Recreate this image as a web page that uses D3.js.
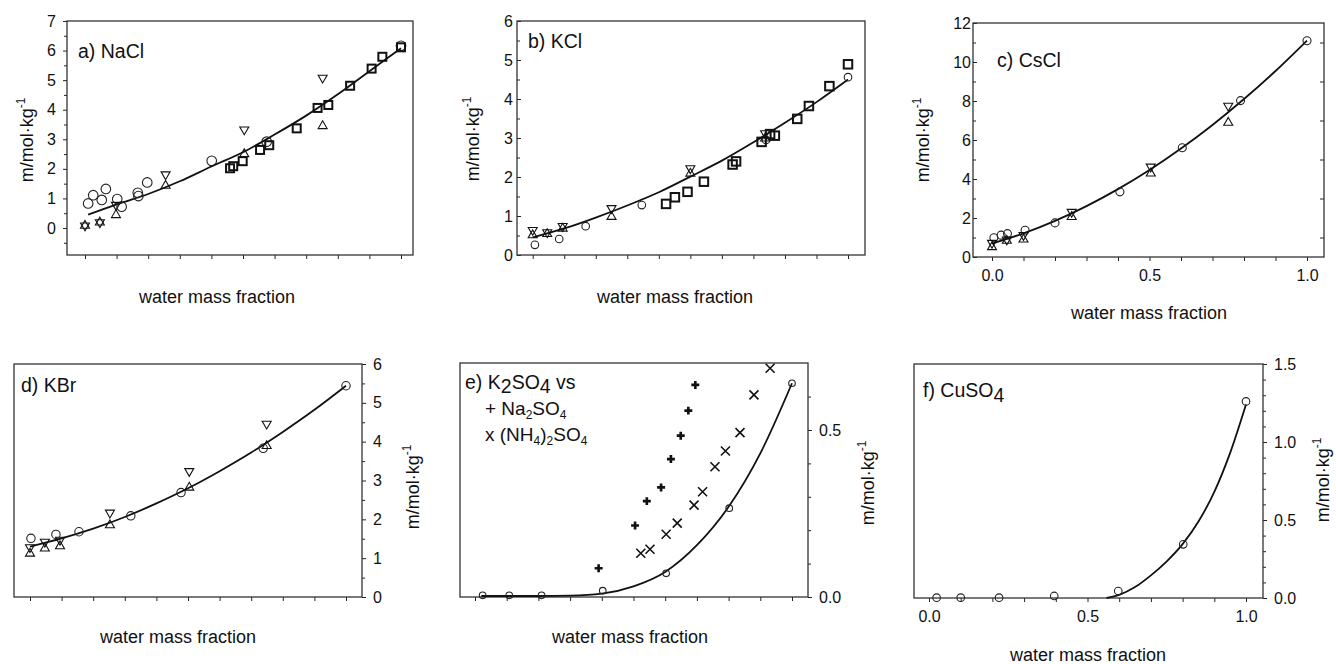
<!DOCTYPE html>
<html>
<head>
<meta charset="utf-8">
<script src="https://cdn.jsdelivr.net/npm/d3@7"></script>
<style>
  body { margin: 0; background: #fff; }
  svg { display: block; font-family: "Liberation Sans", Arial, sans-serif; }
</style>
</head>
<body>
<div id="chart"></div>
<script>
// values: x = water mass fraction, y = m / mol kg-1

// a) NaCl
const naclCircles = [[0.01,0.83],[0.026,1.11],[0.053,0.95],[0.066,1.32],[0.102,0.98],[0.116,0.72],[0.167,1.19],[0.169,1.08],[0.197,1.54],[0.401,2.27],[0.575,2.92],[1.0,6.16]];
const naclSquares = [[0.459,2.02],[0.469,2.09],[0.499,2.26],[0.554,2.64],[0.583,2.80],[0.670,3.37],[0.736,4.06],[0.770,4.16],[0.839,4.81],[0.907,5.39],[0.941,5.79],[1.0,6.11]];
const naclUp = [[0.0,0.08],[0.047,0.19],[0.098,0.44],[0.255,1.43],[0.504,2.50],[0.752,3.45]];
const naclDown = [[0.0,0.08],[0.047,0.19],[0.098,0.78],[0.255,1.81],[0.504,3.33],[0.752,5.08]];
const naclFitX = [0.01,0.1,0.2,0.3,0.4,0.5,0.6,0.7,0.8,0.9,1.0];
const naclFitY = [0.45,0.80,1.15,1.58,2.08,2.56,3.16,3.80,4.52,5.30,6.08];

// b) KCl
const kclCircles = [[0.007,0.26],[0.084,0.41],[0.168,0.74],[0.346,1.28],[0.74,2.95],[1.0,4.56]];
const kclSquares = [[0.423,1.31],[0.451,1.48],[0.491,1.62],[0.543,1.88],[0.634,2.32],[0.645,2.40],[0.726,2.90],[0.753,3.10],[0.768,3.06],[0.839,3.49],[0.876,3.82],[0.941,4.33],[1.0,4.89]];
const kclUp = [[0.0,0.51],[0.046,0.54],[0.095,0.68],[0.25,0.98],[0.50,2.09],[0.737,2.99]];
const kclDown = [[0.0,0.64],[0.046,0.58],[0.095,0.74],[0.25,1.20],[0.50,2.22],[0.737,3.12]];
const kclFitX = [0,0.1,0.2,0.3,0.4,0.5,0.6,0.7,0.8,0.9,1.0];
const kclFitY = [0.45,0.68,0.96,1.27,1.61,2.01,2.42,2.89,3.39,3.92,4.50];

// c) CsCl
const csclCircles = [[0.006,0.99],[0.029,1.12],[0.049,1.20],[0.105,1.37],[0.2,1.75],[0.406,3.34],[0.604,5.6],[0.789,8.02],[1.0,11.09]];
const csclUp = [[0,0.51],[0.047,0.84],[0.1,0.90],[0.253,2.06],[0.504,4.29],[0.75,6.89]];
const csclDown = [[0,0.72],[0.047,0.89],[0.1,1.12],[0.253,2.31],[0.504,4.63],[0.75,7.75]];
const csclFitX = [0,0.1,0.2,0.3,0.4,0.5,0.6,0.7,0.8,0.9,1.0];
const csclFitY = [0.69,1.21,1.85,2.61,3.48,4.46,5.56,6.77,8.10,9.54,11.10];

// d) KBr
const kbrCircles = [[0.003,1.51],[0.082,1.61],[0.155,1.68],[0.319,2.09],[0.478,2.69],[0.738,3.83],[1.0,5.44]];
const kbrUp = [[0,1.12],[0.047,1.25],[0.095,1.31],[0.253,1.85],[0.504,2.82],[0.749,3.89]];
const kbrDown = [[0,1.28],[0.047,1.42],[0.095,1.47],[0.253,2.17],[0.504,3.24],[0.749,4.46]];
const kbrFitX = [0,0.1,0.2,0.3,0.4,0.5,0.6,0.7,0.8,0.9,1.0];
const kbrFitY = [1.30,1.51,1.76,2.06,2.41,2.80,3.24,3.72,4.25,4.82,5.44];

// e) K2SO4 vs Na2SO4 and (NH4)2SO4
const k2so4Circles = [[0.024,0.005],[0.108,0.005],[0.21,0.005],[0.403,0.019],[0.603,0.071],[0.802,0.266],[1.0,0.64]];
const na2so4Plus = [[0.39,0.086],[0.505,0.214],[0.542,0.287],[0.587,0.328],[0.618,0.413],[0.649,0.483],[0.673,0.558],[0.695,0.635]];
const nh4so4Cross = [[0.523,0.131],[0.552,0.143],[0.603,0.188],[0.638,0.221],[0.691,0.275],[0.718,0.315],[0.757,0.39],[0.790,0.437],[0.836,0.492],[0.880,0.605],[0.931,0.685]];
const k2so4FitX = [0.02,0.1,0.2,0.3,0.4,0.5,0.6,0.7,0.8,0.9,1.0];
const k2so4FitY = [0.003,0.003,0.003,0.004,0.010,0.032,0.075,0.155,0.27,0.43,0.64];

// f) CuSO4
const cuso4Circles = [[0.024,0.002],[0.1,0.002],[0.221,0.002],[0.395,0.013],[0.597,0.045],[0.802,0.344],[1.0,1.26]];
const cuso4FitX = [0.56,0.6,0.65,0.7,0.75,0.8,0.85,0.9,0.95,1.0];
const cuso4FitY = [0,0.02,0.07,0.145,0.235,0.345,0.49,0.68,0.93,1.24];

// axis tick values
const xTicks = d3.range(0, 11).map(i => i / 10);
const labelledHalves = [0, 0.5, 1.0];

const W = 1336, H = 664;
const svg = d3.select("#chart").append("svg")
    .attr("width", W)
    .attr("height", H);
svg.append("rect").attr("width", W).attr("height", H).attr("fill", "#fff");

// text with sub/superscript pieces
function richText(g, x, y, parts, size) {
    const t = g.append("text").attr("x", x).attr("y", y)
        .attr("font-size", size).attr("fill", "#111");
    let cur = 0;
    parts.forEach(p => {
        const off = p.dy || 0;
        t.append("tspan").attr("dy", off - cur).attr("font-size", p.size || size).text(p.t);
        cur = off;
    });
    return t;
}

function yTitle(g, cx, cy) {
    const t = g.append("text")
        .attr("transform", `translate(${cx + 6},${cy}) rotate(-90)`)
        .attr("text-anchor", "middle")
        .attr("font-size", 18)
        .attr("fill", "#111");
    t.append("tspan").text("m/mol·kg");
    t.append("tspan").attr("dy", -8).attr("font-size", 12).text("-1");
}

function drawMarker(g, type, px, py, s) {
    if (type === "circle") {
        g.append("circle").attr("cx", px).attr("cy", py).attr("r", s)
            .attr("fill", "none").attr("stroke", "#222").attr("stroke-width", 1.1);
    } else if (type === "square") {
        g.append("rect").attr("x", px - s / 2).attr("y", py - s / 2)
            .attr("width", s).attr("height", s)
            .attr("fill", "none").attr("stroke", "#111").attr("stroke-width", 2);
    } else if (type === "up" || type === "down") {
        const area = Math.sqrt(3) / 4 * s * s;
        g.append("path")
            .attr("d", d3.symbol(d3.symbolTriangle, area)())
            .attr("transform", `translate(${px},${py})` + (type === "down" ? " rotate(180)" : ""))
            .attr("fill", "none").attr("stroke", "#111").attr("stroke-width", 1.1);
    } else if (type === "plus") {
        g.append("path")
            .attr("d", d3.symbol(d3.symbolCross, s * s * 0.55)())
            .attr("transform", `translate(${px},${py})`)
            .attr("fill", "#111");
    } else if (type === "x") {
        const h = s / 2;
        g.append("path")
            .attr("d", `M${px - h},${py - h}L${px + h},${py + h}M${px - h},${py + h}L${px + h},${py - h}`)
            .attr("stroke", "#111").attr("stroke-width", 1.6);
    }
}

const panels = [
    {
        frame: [67, 413, 21, 255], xr: [85, 401], yd: [0, 7], yr: [228, 21],
        side: "left", yMajor: d3.range(0, 8), yMinor: d3.range(-1, 14).map(i => i / 2 + 0.0).filter(v => v % 1 !== 0),
        tickSize: 4, pad: 7, xLabels: null,
        yTitle: [27, 140], xTitle: [217, 303],
        label: { x: 78, y: 58, parts: [{ t: "a) NaCl" }] },
        fit: [naclFitX, naclFitY],
        series: [
            { type: "circle", data: naclCircles, s: 4.8 },
            { type: "up", data: naclUp, s: 9 },
            { type: "down", data: naclDown, s: 9 },
            { type: "square", data: naclSquares, s: 8 }
        ]
    },
    {
        frame: [517, 865, 21, 255], xr: [532.7, 848], yd: [0, 6], yr: [255, 21],
        side: "left", yMajor: d3.range(0, 7), yMinor: d3.range(0, 6).map(i => i + 0.5),
        tickSize: -4, pad: 4, xLabels: null,
        yTitle: [473, 139], xTitle: [675, 303],
        label: { x: 528, y: 48, parts: [{ t: "b) KCl" }] },
        fit: [kclFitX, kclFitY],
        series: [
            { type: "circle", data: kclCircles, s: 3.8 },
            { type: "up", data: kclUp, s: 9 },
            { type: "down", data: kclDown, s: 9 },
            { type: "square", data: kclSquares, s: 8.5 }
        ]
    },
    {
        frame: [973, 1324, 23, 257], xr: [992, 1307], yd: [0, 12], yr: [257, 23],
        side: "left", yMajor: d3.range(0, 13, 2), yMinor: d3.range(1, 12, 2),
        tickSize: -4, pad: 2, xLabels: labelledHalves, rightInner: d3.range(1, 12, 2),
        yTitle: [923, 140], xTitle: [1149, 319],
        label: { x: 997, y: 67, parts: [{ t: "c) CsCl" }] },
        fit: [csclFitX, csclFitY],
        series: [
            { type: "circle", data: csclCircles, s: 4 },
            { type: "up", data: csclUp, s: 9 },
            { type: "down", data: csclDown, s: 9 }
        ]
    },
    {
        frame: [14, 362, 364, 597], xr: [30, 346], yd: [0, 6], yr: [597, 364],
        side: "right", yMajor: d3.range(0, 7), yMinor: d3.range(0, 6).map(i => i + 0.5),
        tickSize: 4, pad: 7, xLabels: null,
        yTitle: [413, 487], xTitle: [178, 643],
        label: { x: 21, y: 392, parts: [{ t: "d) KBr" }] },
        fit: [kbrFitX, kbrFitY],
        series: [
            { type: "circle", data: kbrCircles, s: 4.2 },
            { type: "up", data: kbrUp, s: 9 },
            { type: "down", data: kbrDown, s: 9 }
        ]
    },
    {
        frame: [460, 808, 363, 597], xr: [475, 792], yd: [0, 0.5], yr: [597, 430],
        side: "right", yMajor: [0, 0.5], yMinor: [0.1, 0.2, 0.3, 0.4, 0.6],
        yFormat: d3.format(".1f"),
        tickSize: 4, pad: 7, xLabels: null,
        yTitle: [868, 483], xTitle: [630, 643],
        fit: [k2so4FitX, k2so4FitY],
        series: [
            { type: "circle", data: k2so4Circles, s: 3.3 },
            { type: "plus", data: na2so4Plus, s: 8 },
            { type: "x", data: nh4so4Cross, s: 9 }
        ]
    },
    {
        frame: [914, 1263, 364, 598], xr: [929, 1246], yd: [0, 1.5], yr: [598, 364],
        side: "right", yMajor: [0, 0.5, 1.0, 1.5], yMinor: d3.range(1, 15).map(i => i / 10).filter(v => Math.abs(v * 2 - Math.round(v * 2)) > 1e-6),
        yFormat: d3.format(".1f"),
        tickSize: 4, pad: 7, xLabels: labelledHalves,
        yTitle: [1323, 480], xTitle: [1088, 661],
        label: { x: 923, y: 397, parts: [{ t: "f) CuSO" }, { t: "4", dy: 5 }] },
        fit: [cuso4FitX, cuso4FitY],
        series: [
            { type: "circle", data: cuso4Circles, s: 3.8 }
        ]
    }
];

function styleAxis(sel) {
    sel.select(".domain").remove();
    sel.selectAll(".tick line").attr("stroke", "#222").attr("stroke-width", 1);
    sel.selectAll(".tick text").attr("font-size", 16).attr("fill", "#111")
        .attr("font-family", "Liberation Sans, Arial, sans-serif");
}

panels.forEach(p => {
    const x = d3.scaleLinear().domain([0, 1]).range(p.xr);
    const y = d3.scaleLinear().domain(p.yd).range(p.yr);
    const [l, r, t, b] = p.frame;
    const g = svg.append("g");

    // bottom axis: ticks every 0.1, labels only where the figure has them
    const isLab = d => p.xLabels && p.xLabels.some(v => Math.abs(v - d) < 1e-6);
    g.append("g").attr("transform", `translate(0,${b})`)
        .call(d3.axisBottom(x).tickValues(xTicks).tickSize(4).tickPadding(9)
            .tickFormat(d => isLab(d) ? d3.format(".1f")(d) : ""))
        .call(styleAxis);

    // y axis, major + minor
    const fmt = p.yFormat || d3.format("d");
    const mk = p.side === "left" ? d3.axisLeft : d3.axisRight;
    const ax = p.side === "left" ? l : r;
    g.append("g").attr("transform", `translate(${ax},0)`)
        .call(mk(y).tickValues(p.yMajor).tickSize(p.tickSize).tickPadding(p.pad).tickFormat(fmt))
        .call(styleAxis);
    g.append("g").attr("transform", `translate(${ax},0)`)
        .call(mk(y).tickValues(p.yMinor.filter(v => y(v) >= t - 0.5 && y(v) <= b + 0.5))
            .tickSize(p.tickSize > 0 ? 3 : -3).tickFormat(""))
        .call(styleAxis);

    if (p.rightInner) {
        g.append("g").attr("transform", `translate(${r},0)`)
            .call(d3.axisRight(y).tickValues(p.rightInner).tickSize(-4).tickFormat(""))
            .call(styleAxis);
    }

    // frame
    g.append("rect").attr("x", l).attr("y", t).attr("width", r - l).attr("height", b - t)
        .attr("fill", "none").attr("stroke", "#333").attr("stroke-width", 1.3);

    // fitted curve
    const line = d3.line().x(d => x(d[0])).y(d => y(d[1])).curve(d3.curveMonotoneX);
    g.append("path").datum(d3.zip(p.fit[0], p.fit[1]))
        .attr("d", line)
        .attr("fill", "none").attr("stroke", "#111").attr("stroke-width", 1.8);

    // markers
    p.series.forEach(s => {
        s.data.forEach(d => drawMarker(g, s.type, x(d[0]), y(d[1]), s.s));
    });

    // titles
    g.append("text").attr("x", p.xTitle[0]).attr("y", p.xTitle[1])
        .attr("text-anchor", "middle").attr("font-size", 18).attr("fill", "#111")
        .text("water mass fraction");
    yTitle(g, p.yTitle[0], p.yTitle[1]);
    if (p.label) richText(g, p.label.x, p.label.y, p.label.parts, 19.5);
});

// legend text of panel e
const eg = svg.append("g");
richText(eg, 465, 389, [{ t: "e) K" }, { t: "2", dy: 4 }, { t: "SO" }, { t: "4", dy: 4 }, { t: " vs" }], 19.5);
richText(eg, 485, 415, [{ t: "+ Na" }, { t: "2", dy: 4, size: 12 }, { t: "SO" }, { t: "4", dy: 4, size: 12 }], 19);
richText(eg, 485, 441, [{ t: "x (NH" }, { t: "4", dy: 4, size: 12 }, { t: ")" }, { t: "2", dy: 4, size: 12 }, { t: "SO" }, { t: "4", dy: 4, size: 12 }], 19);
</script>
</body>
</html>
